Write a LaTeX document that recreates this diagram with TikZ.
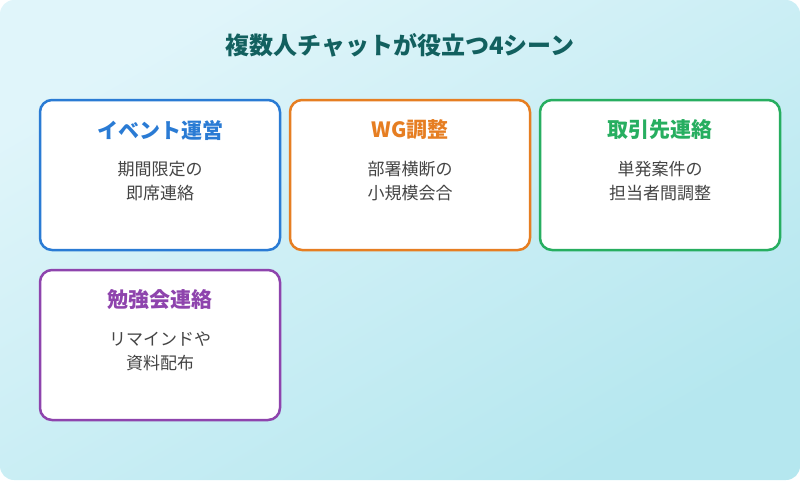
\documentclass[tikz,border=0pt]{standalone}
\usepackage{fontspec}
\newfontfamily\cjk{Noto Sans CJK JP}
\definecolor{bgA}{HTML}{E0F5FA}
\definecolor{bgB}{HTML}{B5E7EF}
\definecolor{titlec}{HTML}{12605F}
\definecolor{textc}{HTML}{444444}
\definecolor{cblue}{HTML}{2A7BD4}
\definecolor{corange}{HTML}{E67E22}
\definecolor{cgreen}{HTML}{27AE60}
\definecolor{cpurple}{HTML}{8E44AD}
\tikzset{
  card/.style={draw=#1, line width=2.5pt, fill=white, rounded corners=12pt},
  cardhead/.style={font=\cjk\bfseries\fontsize{21}{24}\selectfont, text=#1},
  cardbody/.style={font=\cjk\fontsize{17}{24}\selectfont, text=textc, align=center, anchor=north}
}
\begin{document}
\begin{tikzpicture}[x=1pt, y=-1pt]
    \useasboundingbox (0,0) rectangle (800,480);
    \shade[rounded corners=14pt, top color=bgA, bottom color=bgB, shading angle=30] (0,0) rectangle (800,480);

% title
    \node (title) [font=\cjk\bfseries\fontsize{24}{28}\selectfont, text=titlec] at (400,45) {複数人チャットが役立つ4シーン};

% cards
    \draw[card=cblue] (40,100) rectangle (280,250);
    \node (h1) [cardhead=cblue] at (160,130) {イベント運営};
    \node (b1) [cardbody] at (160,158) {期間限定の\\即席連絡};

    \draw[card=corange] (290,100) rectangle (530,250);
    \node (h2) [cardhead=corange] at (410,130) {WG調整};
    \node (b2) [cardbody] at (410,158) {部署横断の\\小規模会合};

    \draw[card=cgreen] (540,100) rectangle (780,250);
    \node (h3) [cardhead=cgreen] at (660,130) {取引先連絡};
    \node (b3) [cardbody] at (660,158) {単発案件の\\担当者間調整};

    \draw[card=cpurple] (40,270) rectangle (280,420);
    \node (h4) [cardhead=cpurple] at (160,300) {勉強会連絡};
    \node (b4) [cardbody] at (160,328) {リマインドや\\資料配布};
\end{tikzpicture}
\end{document}
